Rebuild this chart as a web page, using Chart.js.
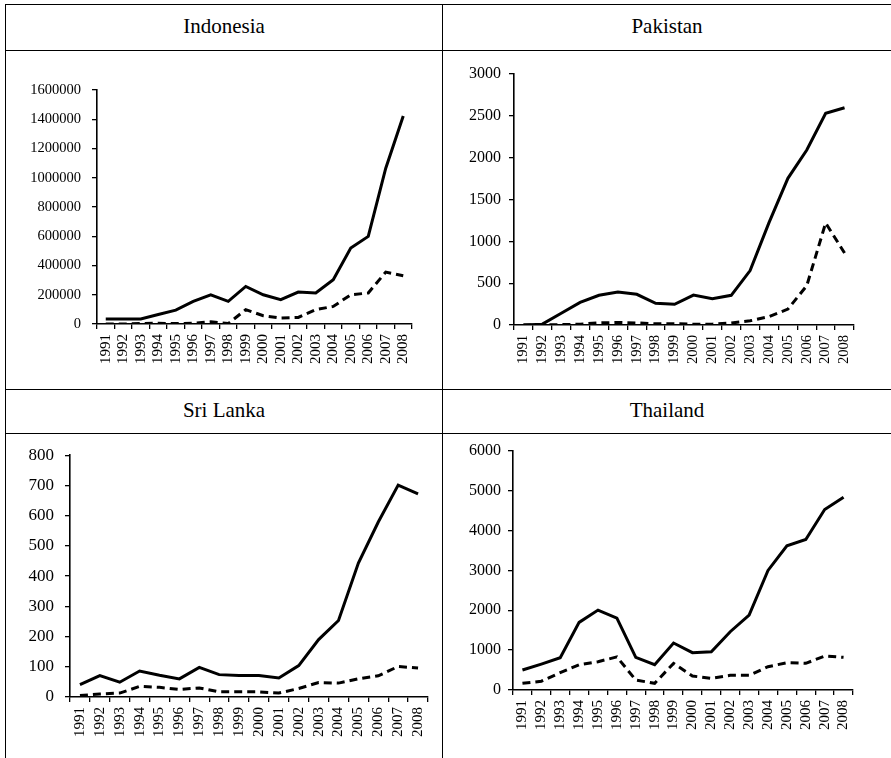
<!DOCTYPE html>
<html>
<head>
<meta charset="utf-8">
<script src="https://cdn.jsdelivr.net/npm/chart.js@4/dist/chart.umd.min.js"></script>
<style>
  html, body { margin: 0; padding: 0; background: #fff; }
  body { width: 891px; height: 758px; position: relative; overflow: hidden; font-family: "Liberation Serif", "Times New Roman", serif; }
  .hl { position: absolute; height: 1px; background: #000; }
  .vl { position: absolute; width: 1px; background: #000; }
  .title { position: absolute; text-align: center; font-size: 21px; color: #000; line-height: 21px; }
  canvas { position: absolute; }
</style>
</head>
<body>
<div class="hl" style="left:5px; top:4px; width:886px;"></div>
<div class="hl" style="left:5px; top:50px; width:886px;"></div>
<div class="hl" style="left:5px; top:389px; width:886px;"></div>
<div class="hl" style="left:5px; top:433px; width:886px;"></div>
<div class="vl" style="left:5px; top:4px; height:754px;"></div>
<div class="vl" style="left:442px; top:4px; height:754px;"></div>

<div class="title" style="left:6px; width:436px; top:16px;">Indonesia</div>
<div class="title" style="left:443px; width:448px; top:16px;">Pakistan</div>
<div class="title" style="left:6px; width:436px; top:400px;">Sri Lanka</div>
<div class="title" style="left:443px; width:448px; top:400px;">Thailand</div>

<canvas id="c1" width="436" height="337" style="left:6px; top:51px;"></canvas>
<canvas id="c2" width="448" height="337" style="left:443px; top:51px;"></canvas>
<canvas id="c3" width="436" height="324" style="left:6px; top:434px;"></canvas>
<canvas id="c4" width="448" height="324" style="left:443px; top:434px;"></canvas>

<script>
const years = ['1991','1992','1993','1994','1995','1996','1997','1998','1999','2000','2001','2002','2003','2004','2005','2006','2007','2008'];

const indonesiaSolid  = [35000, 35000, 35000, 65000, 95000, 155000, 200000, 155000, 257000, 200000, 166000, 218000, 212000, 303000, 519000, 599000, 1065000, 1422000];
const indonesiaDashed = [0, 0, 3000, 5000, 3000, 5000, 15000, 3000, 98000, 57000, 41000, 45000, 98000, 120000, 200000, 212000, 355000, 330000];

const pakistanSolid  = [0, 10, 140, 270, 355, 395, 367, 260, 247, 358, 315, 355, 650, 1223, 1753, 2092, 2530, 2597];
const pakistanDashed = [0, 0, 5, 10, 25, 30, 25, 15, 15, 10, 10, 25, 50, 100, 190, 470, 1220, 860];

const sriLankaSolid  = [41, 71, 49, 86, 72, 60, 98, 74, 71, 71, 63, 104, 190, 253, 443, 579, 701, 672];
const sriLankaDashed = [5, 10, 13, 35, 32, 25, 30, 17, 17, 17, 13, 28, 48, 46, 60, 70, 101, 96];

const thailandSolid  = [500, 650, 810, 1694, 2003, 1802, 818, 634, 1177, 935, 960, 1460, 1878, 2996, 3613, 3772, 4523, 4832];
const thailandDashed = [167, 220, 434, 634, 709, 830, 250, 167, 668, 350, 292, 367, 367, 584, 684, 668, 851, 818];

const yMaxes  = { indonesia: 1600000, pakistan: 3000, sriLanka: 800, thailand: 6000 };
const ySteps  = { indonesia: 200000, pakistan: 500, sriLanka: 100, thailand: 1000 };

const serif = "'Liberation Serif', 'Times New Roman', serif";

function makeChart(id, solid, dashed, yMax, yStep, layout) {
  const canvas = document.getElementById(id);
  return new Chart(canvas, {
    type: 'line',
    data: {
      labels: years,
      datasets: [
        { data: solid, borderColor: '#000', borderWidth: 3, pointRadius: 0, tension: 0, fill: false, borderCapStyle: 'butt', borderJoinStyle: 'miter' },
        { data: dashed, borderColor: '#000', borderWidth: 3, pointRadius: 0, tension: 0, fill: false, borderDash: [8, 5], borderCapStyle: 'butt' }
      ]
    },
    options: {
      responsive: false,
      devicePixelRatio: 1,
      animation: false,
      layout: { padding: { top: layout.top, right: layout.right, left: 0, bottom: 0 } },
      plugins: { legend: { display: false }, tooltip: { enabled: false } },
      scales: {
        x: {
          type: 'category',
          offset: true,
          grid: { offset: true, drawOnChartArea: false, drawTicks: true, tickLength: 5, color: '#000', lineWidth: 1.3 },
          border: { color: '#000', width: 1.6 },
          ticks: { minRotation: 90, maxRotation: 90, autoSkip: false, font: { family: serif, size: layout.xf }, color: '#000', padding: 5 },
          afterFit: s => { s.height = layout.xh; }
        },
        y: {
          min: 0, max: yMax,
          ticks: { stepSize: yStep, font: { family: serif, size: layout.yf }, color: '#000', padding: layout.yp, callback: v => String(v) },
          grid: { drawOnChartArea: false, tickLength: 5, color: '#000', lineWidth: 1.3 },
          border: { color: '#000', width: 1.6 },
          afterFit: s => { s.width = layout.yw; }
        }
      }
    }
  });
}

// layout: canvas-relative chart area placement
makeChart('c1', indonesiaSolid, indonesiaDashed, yMaxes.indonesia, ySteps.indonesia, { top: 39, right: 30, yw: 91, xh: 64, yf: 14.5, xf: 15, yp: 11 });
makeChart('c2', pakistanSolid, pakistanDashed, yMaxes.pakistan, ySteps.pakistan, { top: 23, right: 37, yw: 71, xh: 63, yf: 16, xf: 14.5, yp: 8 });
makeChart('c3', sriLankaSolid, sriLankaDashed, yMaxes.sriLanka, ySteps.sriLanka, { top: 17, right: 14, yw: 64, xh: 61, yf: 17, xf: 15, yp: 11 });
makeChart('c4', thailandSolid, thailandDashed, yMaxes.thailand, ySteps.thailand, { top: 16, right: 38, yw: 70, xh: 68, yf: 16, xf: 15, yp: 7 });
</script>
</body>
</html>
